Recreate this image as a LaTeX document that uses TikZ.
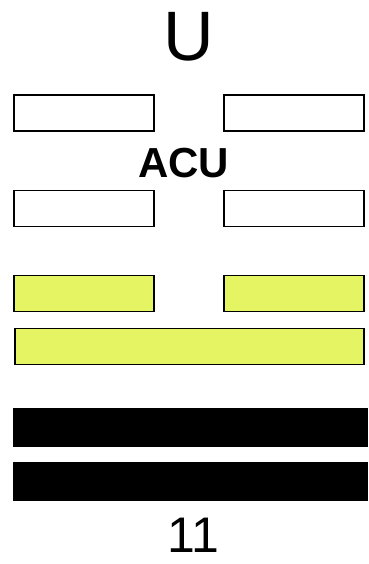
\documentclass[tikz,border=0pt]{standalone}
\usepackage{fontspec}
\setmainfont{Liberation Sans}
\usepackage{xcolor}
\usetikzlibrary{positioning}

\definecolor{barYellow}{RGB}{229,244,98}

\begin{document}
\begin{tikzpicture}[
  x=1pt, y=-1pt,
  bar/.style={draw, line width=1.6pt, minimum height=36pt, inner sep=0pt},
  yinbar/.style={bar, minimum width=140pt},
  yangbar/.style={bar, minimum width=349pt},
  solidbar/.style={fill=black, draw=none, minimum width=355pt, minimum height=39pt, inner sep=0pt},
  bigtxt/.style={font=\fontsize{70}{72}\selectfont, inner sep=0pt, anchor=base},
  acutxt/.style={font=\fontsize{42}{44}\selectfont\bfseries, inner sep=0pt, anchor=base},
  numtxt/.style={font=\fontsize{50}{52}\selectfont, inner sep=0pt, anchor=base},
]

\useasboundingbox[fill=white] (0,0) rectangle (368,564);

\def\lx{84}
\def\rx{294}

% --- Top letter ---
\node[bigtxt] (top) at (188.5,61) {U};

% --- White rows ---
\node[yinbar, fill=white] (w1l) at (\lx,113) {};
\node[yinbar, fill=white] (w1r) at (\rx,113) {};
\node[acutxt] (acu) at (183.5,177) {ACU};
\node[yinbar, fill=white] (w2l) at (\lx,208.5) {};
\node[yinbar, fill=white] (w2r) at (\rx,208.5) {};

% --- Yellow rows ---
\node[yinbar, fill=barYellow] (y1l) at (\lx,293.5) {};
\node[yinbar, fill=barYellow] (y1r) at (\rx,293.5) {};
\node[yangbar, fill=barYellow] (y2) at (189.5,346.5) {};

% --- Black rows ---
\node[solidbar] (b1) at (190.5,427.5) {};
\node[solidbar] (b2) at (190.5,481.5) {};

% --- Number ---
\node[numtxt] (num) at (193,552) {11};

\end{tikzpicture}
\end{document}
